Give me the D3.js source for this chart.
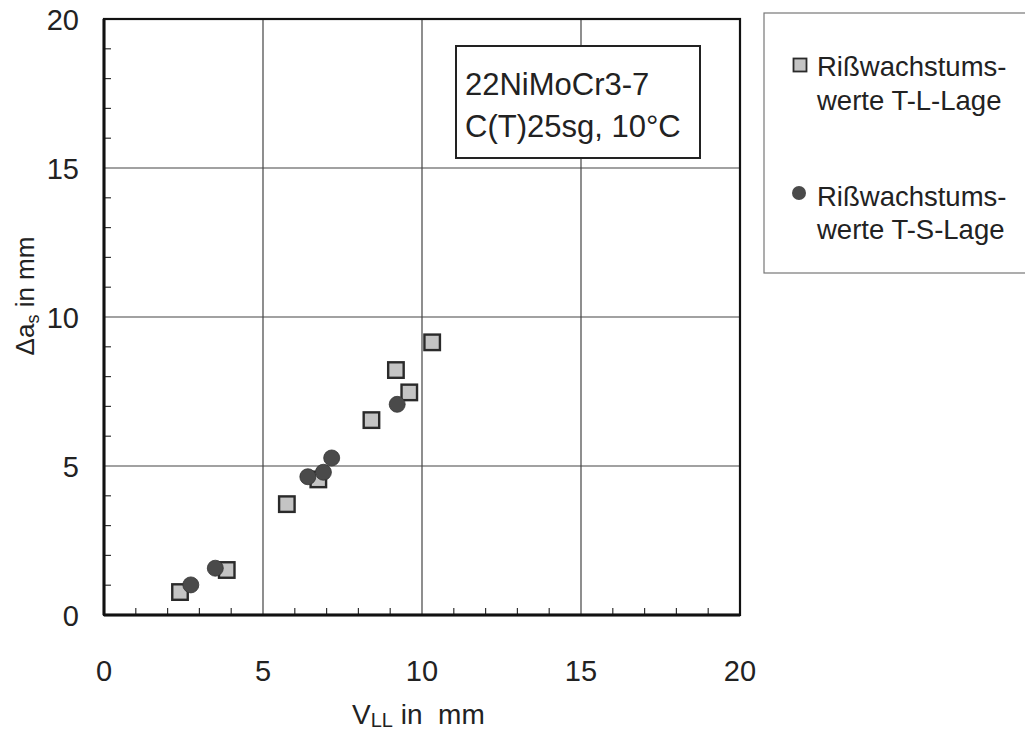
<!DOCTYPE html>
<html><head><meta charset="utf-8">
<script src="https://cdn.jsdelivr.net/npm/d3@7"></script>
<style>body{margin:0;background:#fff}svg{display:block}text{font-family:"Liberation Sans",Arial,Helvetica,sans-serif;fill:#222}</style>
</head><body>
<script>
// Data
const tlX = [2.39, 3.86, 5.75, 6.74, 8.41, 9.18, 9.60, 10.32];
const tlY = [0.77, 1.51, 3.72, 4.55, 6.54, 8.22, 7.47, 9.15];
const tsX = [2.73, 3.50, 6.41, 6.90, 7.16, 9.22];
const tsY = [1.01, 1.57, 4.64, 4.79, 5.27, 7.07];
const xTicks = [0, 5, 10, 15, 20];
const yTicks = [0, 5, 10, 15, 20];
const minorTicks = d3.range(0, 21, 1);
const legendLabels = [["Rißwachstums-", "werte T-L-Lage"], ["Rißwachstums-", "werte T-S-Lage"]];
const noteLines = ["22NiMoCr3-7", "C(T)25sg, 10°C"];

const W = 1025, H = 731;
const svg = d3.select("body").append("svg").attr("width", W).attr("height", H);
const x = d3.scaleLinear().domain([0, 20]).range([104, 740]);
const y = d3.scaleLinear().domain([0, 20]).range([615, 19]);

// grid
const g = svg.append("g");
g.selectAll("line.gx").data(xTicks.slice(1, -1)).join("line")
  .attr("x1", d => x(d)).attr("x2", d => x(d)).attr("y1", y(0)).attr("y2", y(20))
  .attr("stroke", "#444").attr("stroke-width", 1.2);
g.selectAll("line.gy").data(yTicks.slice(1, -1)).join("line")
  .attr("y1", d => y(d)).attr("y2", d => y(d)).attr("x1", x(0)).attr("x2", x(20))
  .attr("stroke", "#444").attr("stroke-width", 1.2);

// minor ticks (inside)
g.selectAll("line.mx").data(minorTicks.filter(d => d % 5 !== 0)).join("line")
  .attr("x1", d => x(d)).attr("x2", d => x(d)).attr("y1", y(0)).attr("y2", y(0) - 7)
  .attr("stroke", "#333").attr("stroke-width", 1.2);
g.selectAll("line.my").data(minorTicks.filter(d => d % 5 !== 0)).join("line")
  .attr("y1", d => y(d)).attr("y2", d => y(d)).attr("x1", x(0)).attr("x2", x(0) + 7)
  .attr("stroke", "#333").attr("stroke-width", 1.2);

// frame
svg.append("rect").attr("x", x(0)).attr("y", y(20)).attr("width", x(20) - x(0)).attr("height", y(0) - y(20))
  .attr("fill", "none").attr("stroke", "#111").attr("stroke-width", 2.2);
svg.append("line").attr("x1", x(0)).attr("x2", x(0)).attr("y1", y(20)).attr("y2", y(0)).attr("stroke", "#111").attr("stroke-width", 3);
svg.append("line").attr("x1", x(0)).attr("x2", x(20)).attr("y1", y(0)).attr("y2", y(0)).attr("stroke", "#111").attr("stroke-width", 3);

// tick labels
svg.selectAll("text.xt").data(xTicks).join("text")
  .attr("x", d => x(d)).attr("y", 681).attr("text-anchor", "middle")
  .attr("font-size", 29).text(d => d);
svg.selectAll("text.yt").data(yTicks).join("text")
  .attr("x", 79).attr("y", d => y(d) + 11).attr("text-anchor", "end")
  .attr("font-size", 29).text(d => d);

// axis titles
const xt = svg.append("text").attr("x", 352).attr("y", 724).attr("font-size", 28);
xt.append("tspan").text("V");
xt.append("tspan").attr("font-size", 20).attr("dy", 3).text("LL");
xt.append("tspan").attr("dy", -3).attr("xml:space", "preserve").text(" in\u00A0 mm");

const yt = svg.append("text").attr("transform", "translate(34,296) rotate(-90)")
  .attr("text-anchor", "middle").attr("font-size", 26);
yt.append("tspan").text("Δa");
yt.append("tspan").attr("font-size", 18).attr("dy", 5).text("s");
yt.append("tspan").attr("dy", -5).text("\u00A0in mm");

// annotation box
svg.append("rect").attr("x", 456).attr("y", 46).attr("width", 244).attr("height", 112)
  .attr("fill", "#fff").attr("stroke", "#222").attr("stroke-width", 2);
svg.selectAll("text.note").data(noteLines).join("text")
  .attr("x", 465).attr("y", (d, i) => 95 + i * 42).attr("font-size", 31).text(d => d);

// data marks
const sq = 15.5;
svg.selectAll("rect.tl").data(tlX.map((v, i) => [v, tlY[i]])).join("rect")
  .attr("x", d => x(d[0]) - sq / 2).attr("y", d => y(d[1]) - sq / 2)
  .attr("width", sq).attr("height", sq)
  .attr("fill", "#c4c4c4").attr("stroke", "#2a2a2a").attr("stroke-width", 2.4);
svg.selectAll("circle.ts").data(tsX.map((v, i) => [v, tsY[i]])).join("circle")
  .attr("cx", d => x(d[0])).attr("cy", d => y(d[1])).attr("r", 8)
  .attr("fill", "#4a4a4a").attr("stroke", "#333").attr("stroke-width", 0.8);

// legend
svg.append("rect").attr("x", 764).attr("y", 13).attr("width", 280).attr("height", 260)
  .attr("fill", "#fff").attr("stroke", "#777").attr("stroke-width", 1.2);
svg.append("rect").attr("x", 793.5).attr("y", 58.5).attr("width", 13).attr("height", 13)
  .attr("fill", "#c4c4c4").attr("stroke", "#2a2a2a").attr("stroke-width", 1.8);
svg.append("circle").attr("cx", 799).attr("cy", 193).attr("r", 7).attr("fill", "#4a4a4a");
const lb = [[76, 110], [206, 239]];
legendLabels.forEach((lines, k) => {
  lines.forEach((t, j) => {
    svg.append("text").attr("x", 817).attr("y", lb[k][j]).attr("font-size", 27.5).text(t);
  });
});
</script>
</body></html>
